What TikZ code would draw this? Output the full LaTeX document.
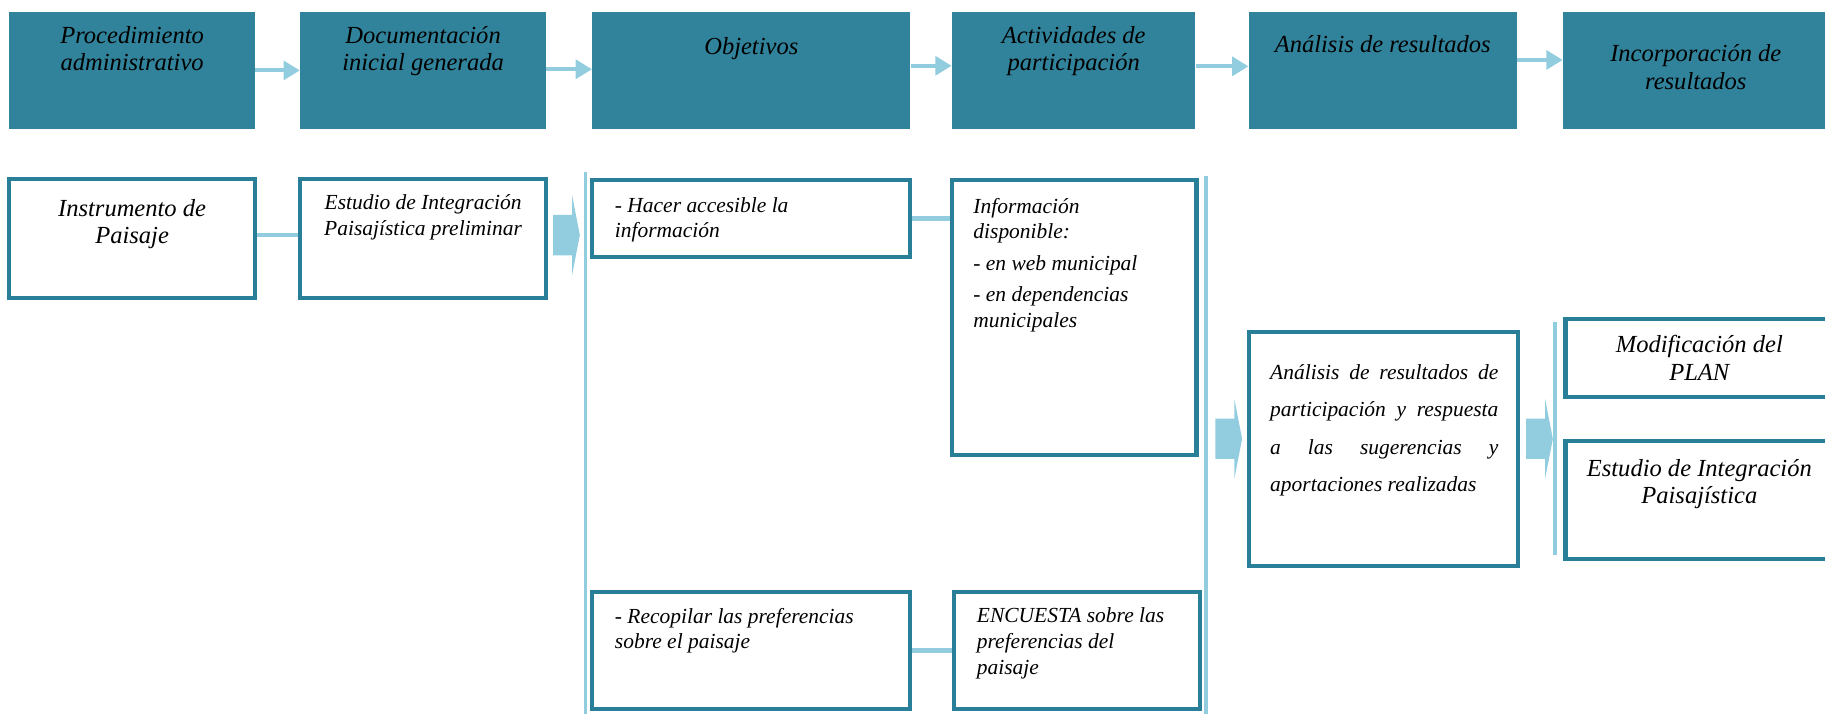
\documentclass[tikz,border=0pt]{standalone}
\usepackage{fontspec}
\setmainfont{Liberation Serif}
\usetikzlibrary{arrows.meta,fit,shapes.arrows}
\definecolor{tealfill}{RGB}{49,131,155}
\definecolor{tealline}{RGB}{41,126,152}
\definecolor{flowblue}{RGB}{146,205,223}
\tikzset{
  headbox/.style={fill=tealfill,inner sep=0pt},
  cellbox/.style={draw=tealline,line width=2pt,fill=white,inner sep=0pt},
  headtxt/.style={font=\fontsize{12}{13.4}\selectfont\itshape,align=center,anchor=north,inner sep=0pt},
  celltxt/.style={font=\fontsize{10.5}{12.5}\selectfont\itshape,align=left,anchor=north west,inner sep=0pt},
  flow/.style={draw=flowblue,line width=2pt,-{Triangle[length=0.28cm,width=0.32cm]}},
  link/.style={draw=flowblue,line width=0.08cm},
  sep/.style={draw=flowblue,line width=0.06cm},
  chevron/.style={single arrow,fill=flowblue,inner xsep=0pt,inner ysep=0.34cm,
    minimum height=0.46cm,single arrow head extend=0.34cm,single arrow tip angle=158}
}

\begin{document}
\begin{tikzpicture}[x=0.02cm,y=-0.02cm]
  \useasboundingbox (0,0) rectangle (1568,613);
  \clip (0,0) rectangle (1568,613);

  \node[headbox,fit={(8,10) (219,111)}] (proc) {};
  \node[headbox,fit={(258,10) (469,111)}] (doc) {};
  \node[headbox,fit={(509,10) (782,111)}] (obj) {};
  \node[headbox,fit={(818,10) (1027,111)}] (act) {};
  \node[headbox,fit={(1073,10) (1303,111)}] (anres) {};
  \node[headbox,fit={(1343,10) (1580,111)}] (incorp) {};

  \node[headtxt] (procT) at (113.5,22) {Procedimiento\\administrativo};
  \node[headtxt] (docT) at (363.5,22) {Documentación\\inicial generada};
  \node[headtxt] (objT) at (645.5,32) {Objetivos};
  \node[headtxt] (actT) at (922.5,22) {Actividades de\\participación};
  \node[headtxt] (anresT) at (1188,30) {Análisis de resultados};
  \node[headtxt] (incorpT) at (1457,38) {Incorporación de\\resultados};

  \draw[flow] (proc) -- (doc);
  \draw[flow] ([yshift=0.02cm]doc.east) -- ([yshift=0.02cm]obj.west);
  \draw[flow] ([yshift=0.08cm]obj.east) -- ([yshift=0.08cm]act.west);
  \draw[flow] ([yshift=0.07cm]act.east) -- ([yshift=0.07cm]anres.west);
  \draw[flow] ([yshift=0.18cm]anres.east) -- ([yshift=0.18cm]incorp.west);

  \node[cellbox,fit={(8,154) (219,256)}] (instr) {};
  \node[cellbox,fit={(258,154) (469,256)}] (estprel) {};
  \node[cellbox,fit={(509,155) (782,221)}] (hacer) {};
  \node[cellbox,fit={(818,155) (1028,391)}] (info) {};
  \node[cellbox,fit={(509,509) (782,609)}] (recop) {};
  \node[cellbox,fit={(820,509) (1031,609)}] (encu) {};
  \node[cellbox,fit={(1073,285) (1304,486)}] (anal) {};
  \node[cellbox,fit={(1345,274) (1580,341)}] (modif) {};
  \node[cellbox,fit={(1345,379) (1580,480)}] (estfin) {};

  \node[headtxt] (instrT) at (113.5,171) {Instrumento de\\Paisaje};
  \node[celltxt,anchor=north,align=center] (estprelT) at (363.5,167) {Estudio de Integración\\Paisajística preliminar};
  \node[celltxt] (hacerT) at (528,169) {- Hacer accesible la\\información};
  \node[celltxt] (infoT) at (836,170) {Información\\disponible:\\[0.1cm]- en web municipal\\[0.1cm]- en dependencias\\municipales};
  \node[celltxt] (recopT) at (528,522) {- Recopilar las preferencias\\sobre el paisaje};
  \node[celltxt] (encuT) at (839,522) {ENCUESTA sobre las\\preferencias del\\paisaje};
  \node[celltxt,text width=3.92cm,align=justify,font=\fontsize{10.5}{18.2}\selectfont\itshape] (analT) at (1091,313)
    {Análisis de resultados de\linebreak participación y respuesta\linebreak a las sugerencias y\linebreak aportaciones realizadas};
  \node[headtxt] (modifT) at (1460,288) {Modificación del\\PLAN};
  \node[headtxt] (estfinT) at (1460,394) {Estudio de Integración\\Paisajística};

  \draw[link] ([yshift=0.06cm]instr.east) -- ([yshift=0.06cm]estprel.west);
  \draw[link] (hacer.east) -- (hacer.east -| info.west);
  \draw[link] (recop) -- (encu);

  \draw[sep] (503,148) -- (503,620);
  \draw[sep] (1036,151) -- (1036,620);
  \draw[sep] (1336,277) -- (1336,477);

  \node[chevron] (go1) at (485,202) {};
  \node[chevron] (go2) at (1054,377) {};
  \node[chevron] (go3) at (1321,377) {};
\end{tikzpicture}
\end{document}
